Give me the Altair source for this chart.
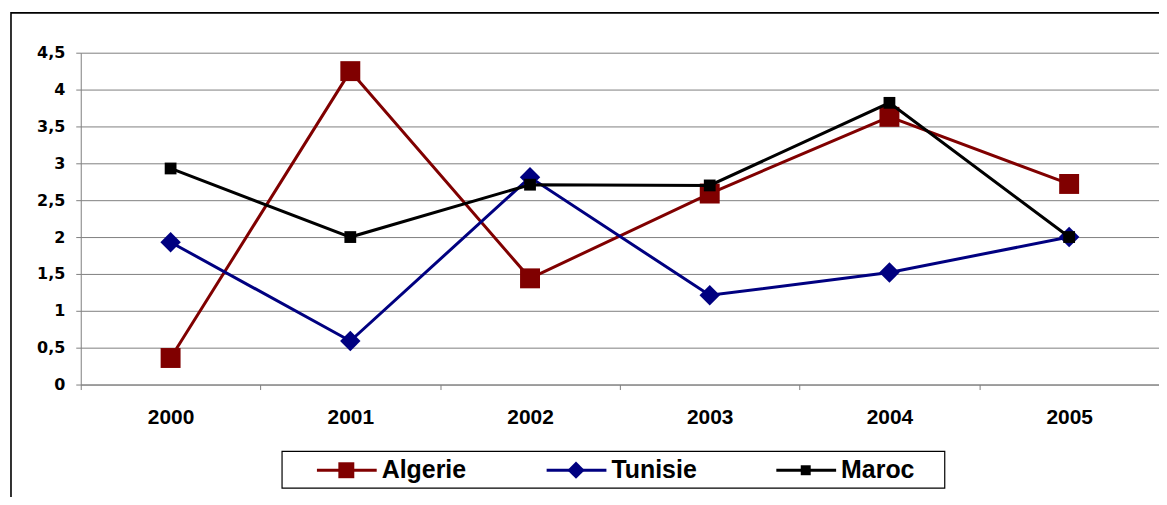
import altair as alt
import pandas as pd

# ---- data ----
years = ["2000", "2001", "2002", "2003", "2004", "2005"]
series_names = ["Algerie", "Tunisie", "Maroc"]
algerie = [0.36, 4.25, 1.44, 2.59, 3.63, 2.72]
tunisie = [1.93, 0.59, 2.81, 1.21, 1.52, 2.00]
maroc = [2.93, 2.00, 2.71, 2.70, 3.82, 2.00]
y_ticks = [0, 0.5, 1, 1.5, 2, 2.5, 3, 3.5, 4, 4.5]

colors = ["#800000", "#000080", "#000000"]
marker_shapes = ["square", "diamond", "square"]
marker_sizes = [400, 420, 140]
legend_marker_sizes = [256, 300, 100]

W, H = 1082, 333

rows = []
for name, vals in zip(series_names, [algerie, tunisie, maroc]):
    for yr, v in zip(years, vals):
        rows.append({"year": yr, "value": v, "series": name})
df = pd.DataFrame(rows)

x_enc = alt.X(
    "year:O",
    sort=years,
    bandPosition=0.5,
    scale=alt.Scale(type="band", domain=years, paddingInner=0, paddingOuter=0),
    axis=alt.Axis(
        title=None,
        labelAngle=0,
        tickBand="extent",
        tickSize=5,
        tickColor="#808080",
        domainColor="#808080",
        labelFont="Liberation Sans",
        labelFontWeight="bold",
        labelFontSize=21,
        labelColor="#000000",
        labelPadding=17,
        grid=False,
    ),
)
y_enc = alt.Y(
    "value:Q",
    scale=alt.Scale(domain=[0, 4.5], nice=False, zero=True),
    axis=alt.Axis(
        title=None,
        values=y_ticks,
        labelExpr="replace(format(datum.value, '~g'), '.', ',')",
        grid=True,
        gridColor="#808080",
        gridWidth=1,
        tickSize=5,
        tickColor="#808080",
        domainColor="#808080",
        labelFont="DejaVu Sans",
        labelFontWeight="bold",
        labelFontSize=16,
        labelColor="#000000",
        labelPadding=11,
    ),
)
color_scale = alt.Scale(domain=series_names, range=colors)
color_enc = alt.Color("series:N", scale=color_scale, legend=None)

base = alt.Chart(df)
series_layers = []
for name, shp, sz in zip(series_names, marker_shapes, marker_sizes):
    sub = base.transform_filter(alt.datum.series == name)
    series_layers.append(
        sub.mark_line(strokeWidth=3).encode(x=x_enc, y=y_enc, color=color_enc)
    )
    series_layers.append(
        sub.mark_point(filled=True, opacity=1, shape=shp, size=sz).encode(
            x=x_enc, y=y_enc, color=color_enc
        )
    )

# ---- legend (Excel style: line + marker + bold label, inside a box) ----
LEG_X0, LEG_STEP, LEG_Y = 237, 230.5, 419
legend_layers = []
for i, (name, shp, lsz) in enumerate(zip(series_names, marker_shapes, legend_marker_sizes)):
    entry = alt.Chart(pd.DataFrame({"series": [name]}))
    x0 = LEG_X0 + LEG_STEP * i
    legend_layers.append(
        entry.mark_rule(strokeWidth=3).encode(
            x=alt.value(x0), x2=alt.value(x0 + 60), y=alt.value(LEG_Y), color=color_enc
        )
    )
    legend_layers.append(
        entry.mark_point(filled=True, opacity=1, shape=shp, size=lsz).encode(
            x=alt.value(x0 + 29.5), y=alt.value(LEG_Y), color=color_enc
        )
    )
    legend_layers.append(
        entry.mark_text(
            font="Liberation Sans", fontWeight="bold", fontSize=25, align="left",
            baseline="alphabetic", color="#000000",
        ).encode(x=alt.value(x0 + 65), y=alt.value(LEG_Y + 8), text="series:N")
    )

one = pd.DataFrame({"k": [0]})
outer_border = alt.Chart(one).mark_rect(fill="transparent", stroke="#000000", strokeWidth=1.6).encode(
    x=alt.value(-70), x2=alt.value(W + 40), y=alt.value(-40), y2=alt.value(H + 200)
)
legend_box = alt.Chart(one).mark_rect(fill="transparent", stroke="#000000", strokeWidth=1.2).encode(
    x=alt.value(202), x2=alt.value(867), y=alt.value(400), y2=alt.value(437)
)

chart = (
    alt.layer(outer_border, *series_layers, legend_box, *legend_layers)
    .properties(
        width=W,
        height=H,
        autosize=alt.AutoSizeParams(type="none"),
        padding={"left": 73, "top": 44, "right": 0, "bottom": 112},
        background="#ffffff",
    )
    .configure_view(stroke=None)
)

chart.save("out.html", embed_options={"renderer": "svg", "actions": False})
